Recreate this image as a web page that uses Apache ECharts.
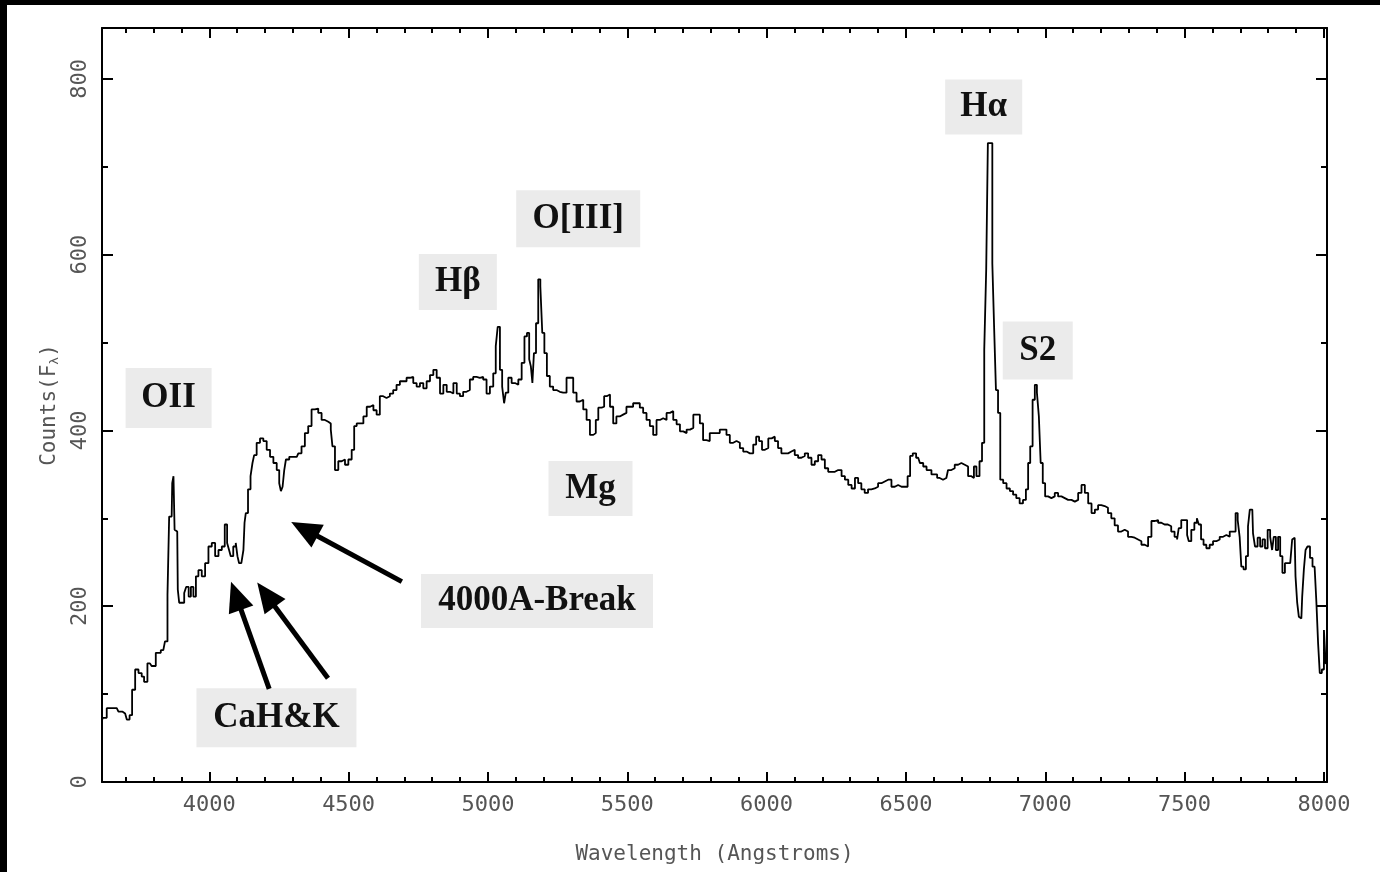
<!DOCTYPE html>
<html>
<head>
<meta charset="utf-8">
<script src="https://cdn.jsdelivr.net/npm/echarts@6/dist/echarts.min.js"></script>
<style>
  html, body { margin: 0; padding: 0; background: #000; width: 1380px; height: 872px; overflow: hidden; }
  #chart { position: absolute; left: 7px; top: 5px; width: 1373px; height: 867px; background: #fff; }
</style>
</head>
<body>
<div id="chart"></div>
<script>
// Galaxy spectrum: wavelength (Angstroms) and counts
const wavelengths = [
  3615, 3620, 3644, 3668, 3680, 3698, 3710, 3718, 3728, 3740, 3752, 3763, 3769, 3787, 3799, 3817,
  3835, 3847, 3853, 3859, 3865, 3869, 3874, 3877, 3885, 3889, 3895, 3907, 3913, 3921, 3931, 3937,
  3949, 3955, 3967, 3979, 3991, 4003, 4015, 4027, 4039, 4051, 4060, 4068, 4074, 4080, 4092, 4098,
  4104, 4110, 4120, 4125, 4128, 4134, 4144, 4152, 4158, 4164, 4176, 4188, 4200, 4212, 4224, 4236,
  4248, 4254, 4260, 4266, 4272, 4278, 4296, 4314, 4325, 4337, 4349, 4361, 4373, 4385, 4397, 4409,
  4421, 4433, 4439, 4445, 4457, 4469, 4481, 4493, 4505, 4517, 4523, 4535, 4547, 4559, 4571, 4583,
  4595, 4606, 4618, 4630, 4642, 4654, 4666, 4678, 4690, 4702, 4714, 4726, 4738, 4750, 4762, 4774,
  4786, 4798, 4810, 4822, 4834, 4846, 4858, 4870, 4882, 4894, 4905, 4917, 4929, 4941, 4953, 4965,
  4977, 4989, 5001, 5013, 5025, 5031, 5039, 5047, 5055, 5061, 5067, 5079, 5091, 5103, 5115, 5127,
  5135, 5145, 5151, 5157, 5162, 5168, 5177, 5184, 5192, 5198, 5207, 5216, 5228, 5240, 5252, 5264,
  5276, 5288, 5300, 5312, 5324, 5336, 5348, 5360, 5372, 5384, 5390, 5402, 5414, 5420, 5432, 5444,
  5455, 5467, 5479, 5491, 5503, 5515, 5527, 5539, 5551, 5563, 5575, 5587, 5599, 5611, 5623, 5635,
  5647, 5659, 5671, 5683, 5695, 5707, 5719, 5731, 5743, 5755, 5766, 5778, 5790, 5802, 5814, 5826,
  5838, 5850, 5862, 5874, 5886, 5898, 5910, 5922, 5934, 5946, 5958, 5967, 5979, 5988, 6000, 6012,
  6024, 6035, 6047, 6059, 6071, 6083, 6095, 6107, 6119, 6131, 6143, 6155, 6167, 6179, 6191, 6203,
  6215, 6227, 6239, 6251, 6263, 6275, 6287, 6299, 6311, 6323, 6334, 6346, 6358, 6370, 6382, 6394,
  6406, 6418, 6430, 6442, 6454, 6466, 6478, 6490, 6502, 6510, 6520, 6529, 6544, 6556, 6568, 6580,
  6603, 6621, 6633, 6645, 6657, 6669, 6681, 6693, 6705, 6717, 6729, 6741, 6747, 6759, 6769, 6777,
  6785, 6791, 6797, 6807, 6813, 6819, 6827, 6834, 6843, 6855, 6867, 6879, 6890, 6902, 6914, 6926,
  6935, 6942, 6950, 6959, 6966, 6974, 6980, 6987, 6995, 7004, 7016, 7028, 7040, 7052, 7064, 7076,
  7088, 7100, 7112, 7124, 7136, 7148, 7160, 7172, 7184, 7195, 7207, 7219, 7231, 7243, 7255, 7267,
  7279, 7291, 7303, 7315, 7327, 7339, 7351, 7363, 7375, 7387, 7399, 7411, 7422, 7434, 7446, 7458,
  7470, 7476, 7482, 7494, 7506, 7512, 7518, 7530, 7540, 7548, 7554, 7564, 7572, 7584, 7596, 7608,
  7620, 7632, 7644, 7656, 7668, 7680, 7686, 7695, 7700, 7707, 7716, 7724, 7731, 7737, 7743, 7748,
  7757, 7767, 7775, 7784, 7793, 7803, 7811, 7817, 7823, 7832, 7839, 7847, 7855, 7865, 7875, 7883,
  7889, 7895, 7901, 7907, 7913, 7919, 7925, 7931, 7937, 7945, 7955, 7963, 7970, 7976, 7982, 7988,
  7997, 8003, 8009
];
const counts = [
  70, 73, 84, 84, 80, 78, 71, 76, 105, 128, 124, 120, 114, 135, 132, 147,
  150, 160, 213, 302, 302, 340, 348, 287, 285, 219, 204, 204, 215, 222, 211, 222,
  211, 234, 241, 234, 249, 268, 272, 257, 264, 268, 293, 272, 264, 257, 268, 272,
  257, 249, 247, 264, 295, 306, 333, 348, 363, 372, 386, 391, 388, 378, 370, 363,
  355, 340, 331, 336, 355, 367, 370, 370, 374, 382, 397, 405, 424, 425, 420, 412,
  410, 408, 401, 382, 355, 365, 367, 361, 367, 378, 405, 408, 408, 416, 427, 429,
  423, 418, 439, 437, 439, 442, 446, 452, 456, 456, 460, 461, 454, 450, 454, 448,
  456, 463, 469, 460, 442, 452, 444, 442, 454, 442, 439, 444, 446, 458, 461, 460,
  461, 458, 442, 450, 465, 496, 518, 469, 450, 431, 443, 460, 454, 452, 458, 477,
  507, 511, 481, 473, 454, 488, 522, 572, 564, 511, 488, 462, 450, 446, 444, 443,
  443, 460, 460, 443, 433, 435, 424, 412, 395, 397, 412, 426, 427, 439, 441, 427,
  408, 416, 418, 420, 427, 427, 431, 431, 426, 420, 412, 405, 395, 412, 414, 412,
  420, 422, 412, 407, 399, 397, 401, 403, 418, 418, 408, 389, 388, 397, 397, 397,
  401, 401, 395, 386, 388, 386, 380, 376, 374, 374, 384, 393, 388, 378, 380, 391,
  393, 388, 380, 374, 374, 376, 378, 372, 369, 371, 374, 369, 361, 365, 372, 367,
  357, 353, 353, 355, 355, 348, 344, 338, 334, 346, 340, 333, 329, 333, 334, 336,
  340, 342, 344, 344, 336, 338, 336, 336, 336, 348, 371, 374, 369, 363, 359, 355,
  350, 346, 344, 346, 355, 357, 361, 363, 361, 359, 348, 346, 359, 348, 365, 386,
  492, 583, 727, 727, 590, 522, 446, 420, 344, 340, 334, 331, 327, 323, 317, 321,
  333, 363, 382, 435, 452, 443, 416, 363, 340, 325, 323, 325, 329, 325, 323, 321,
  321, 319, 321, 329, 338, 329, 317, 306, 310, 315, 314, 312, 306, 300, 292, 285,
  287, 285, 279, 278, 276, 274, 270, 268, 279, 297, 298, 295, 293, 293, 291, 285,
  279, 276, 289, 298, 298, 281, 274, 287, 295, 300, 293, 276, 270, 266, 270, 274,
  276, 279, 281, 279, 285, 285, 306, 298, 279, 245, 242, 257, 291, 310, 310, 283,
  268, 278, 268, 276, 266, 287, 279, 264, 279, 264, 279, 257, 238, 249, 249, 247,
  276, 278, 234, 204, 188, 186, 211, 242, 264, 268, 255, 245, 245, 204, 158, 124,
  128, 173, 135
];

// Axis ticks and labels
const xLabelTicks = [4000, 4500, 5000, 5500, 6000, 6500, 7000, 7500, 8000];
const xMinorTicks = [
  3700, 3800, 3900, 4000, 4100, 4200, 4300, 4400, 4500, 4600, 4700, 4800, 4900, 5000, 5100,
  5200, 5300, 5400, 5500, 5600, 5700, 5800, 5900, 6000, 6100, 6200, 6300, 6400, 6500, 6600,
  6700, 6800, 6900, 7000, 7100, 7200, 7300, 7400, 7500, 7600, 7700, 7800, 7900, 8000
];
const yLabelTicks = [0, 200, 400, 600, 800];
const yMinorTicks = [100, 300, 500, 700];

// Spectral features named on the plot, anchored at (wavelength, counts)
const featureNames = ['OII', 'CaH&K', '4000A-Break', 'H\u03B2', 'O[III]', 'Mg', 'H\u03B1', 'S2'];
const featureWavelengths = [3854, 4241, 5176, 4892, 5324, 5368, 6779, 6973];
const featureCounts = [437, 73, 206, 569, 641, 334, 768, 491];

// Arrows pointing at absorption features: tail (wavelength, counts) -> tip (wavelength, counts)
const arrowTails = [[4215, 106], [4426, 118], [4691, 228]];
const arrowTips = [[4078, 228], [4172, 227], [4294, 296]];

const X_MIN = 3615, X_MAX = 8011;
const Y_MIN = 0, Y_MAX = 858;

const monoFont = "'DejaVu Sans Mono', 'Liberation Mono', monospace";
const serifBold = "bold 35px 'Liberation Serif', 'DejaVu Serif', serif";
const boxSizes = {
  'OII': [86, 60], 'CaH&K': [160, 59], '4000A-Break': [232, 54], 'H\u03B2': [78, 56],
  'O[III]': [124, 57], 'Mg': [84, 55], 'H\u03B1': [77, 55], 'S2': [70, 58]
};

const chart = echarts.init(document.getElementById('chart'), null, { renderer: 'canvas' });

const tickLine = { color: '#000', width: 2 };
const noSplit = { show: false };
const plainNumber = (v) => String(v);

function xAxisDef(position, ticks, len, withLine, withLabels) {
  return {
    type: 'value', position: position, min: X_MIN, max: X_MAX,
    axisLine: { show: withLine, onZero: false, lineStyle: { color: '#000', width: 2 } },
    axisTick: { show: true, inside: true, length: len, customValues: ticks, lineStyle: tickLine },
    axisLabel: withLabels
      ? { show: true, customValues: ticks, formatter: plainNumber, margin: 12, color: '#555', fontFamily: monoFont, fontSize: 22 }
      : { show: false },
    splitLine: noSplit
  };
}
function yAxisDef(position, ticks, len, withLine, withLabels) {
  return {
    type: 'value', position: position, min: Y_MIN, max: Y_MAX,
    axisLine: { show: withLine, onZero: false, lineStyle: { color: '#000', width: 2 } },
    axisTick: { show: true, inside: true, length: len, customValues: ticks, lineStyle: tickLine },
    axisLabel: withLabels
      ? { show: true, customValues: ticks, formatter: plainNumber, rotate: 90, margin: 11, color: '#555', fontFamily: monoFont, fontSize: 22 }
      : { show: false },
    splitLine: noSplit
  };
}

const xBottom = xAxisDef('bottom', xLabelTicks, 10, true, true);
xBottom.name = 'Wavelength (Angstroms)';
xBottom.nameLocation = 'middle';
xBottom.nameGap = 62;
xBottom.nameTextStyle = { color: '#555', fontFamily: monoFont, fontSize: 21 };

const yLeft = yAxisDef('left', yLabelTicks, 11, true, true);
yLeft.name = 'Counts(F{s|\u03BB})';
yLeft.nameLocation = 'middle';
yLeft.nameGap = 39;
yLeft.nameTextStyle = {
  color: '#555', fontFamily: monoFont, fontSize: 21,
  rich: { s: { color: '#555', fontFamily: monoFont, fontSize: 13, padding: [10, 0, 0, 0] } }
};

chart.setOption({
  animation: false,
  backgroundColor: '#fff',
  grid: { left: 95, right: 53, top: 23, bottom: 90, containLabel: false },
  xAxis: [
    xBottom,
    xAxisDef('bottom', xMinorTicks, 5, false, false),
    xAxisDef('top', xLabelTicks, 10, true, false),
    xAxisDef('top', xMinorTicks, 5, false, false)
  ],
  yAxis: [
    yLeft,
    yAxisDef('left', yMinorTicks, 6, false, false),
    yAxisDef('right', yLabelTicks, 11, true, false),
    yAxisDef('right', yMinorTicks, 6, false, false)
  ],
  series: [{
    type: 'line',
    xAxisIndex: 0,
    yAxisIndex: 0,
    data: wavelengths.map((w, i) => [w, counts[i]]),
    step: 'middle',
    symbol: 'none',
    showSymbol: false,
    clip: true,
    lineStyle: { color: '#000', width: 1.8 }
  }]
});

// Feature labels and arrows, placed through the axes' own scales
const toPx = (pt) => chart.convertToPixel({ xAxisIndex: 0, yAxisIndex: 0 }, pt);
const graphics = [];
featureNames.forEach((name, i) => {
  const c = toPx([featureWavelengths[i], featureCounts[i]]);
  const [w, h] = boxSizes[name];
  graphics.push({
    type: 'rect', z: 100,
    shape: { x: c[0] - w / 2, y: c[1] - h / 2, width: w, height: h },
    style: { fill: '#ebebeb' }
  });
  graphics.push({
    type: 'text', z: 101,
    x: c[0], y: c[1],
    style: {
      text: name, font: serifBold, fill: '#111',
      textAlign: 'center', textVerticalAlign: 'middle', align: 'center', verticalAlign: 'middle'
    }
  });
});
arrowTails.forEach((tail, i) => {
  const s = toPx(tail), t = toPx(arrowTips[i]);
  const dx = t[0] - s[0], dy = t[1] - s[1];
  const len = Math.hypot(dx, dy);
  const ux = dx / len, uy = dy / len;
  const headLen = 30, headHalf = 13;
  const bx = t[0] - ux * headLen, by = t[1] - uy * headLen;
  graphics.push({
    type: 'line', z: 100,
    shape: { x1: s[0], y1: s[1], x2: bx + ux * 4, y2: by + uy * 4 },
    style: { stroke: '#000', lineWidth: 5 }
  });
  graphics.push({
    type: 'polygon', z: 100,
    shape: { points: [[t[0], t[1]], [bx - uy * headHalf, by + ux * headHalf], [bx + uy * headHalf, by - ux * headHalf]] },
    style: { fill: '#000' }
  });
});
chart.setOption({ graphic: graphics });
</script>
</body>
</html>
